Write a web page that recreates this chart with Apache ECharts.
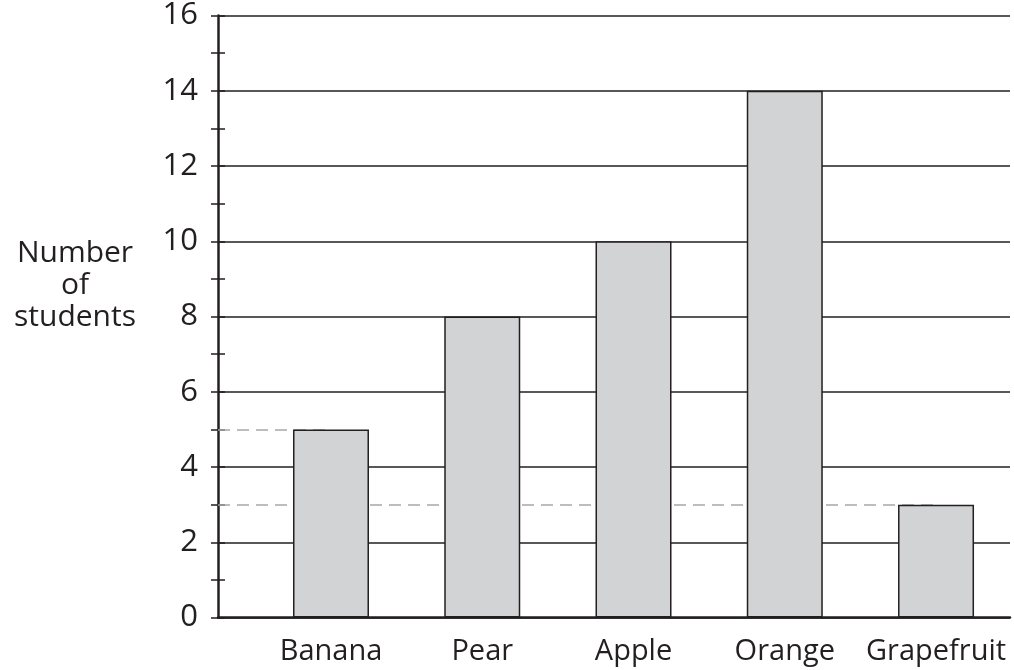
<!DOCTYPE html>
<html>
<head>
<meta charset="utf-8">
<script src="https://cdn.jsdelivr.net/npm/echarts@6/dist/echarts.min.js"></script>
<style>
html,body{margin:0;padding:0;background:#fff;}
#chart{width:1014px;height:670px;}
</style>
</head>
<body>
<div id="chart"></div>
<script>
// ---- data ----
var categories = ['Banana', 'Pear', 'Apple', 'Orange', 'Grapefruit'];
var students = [5, 8, 10, 14, 3];
var yTicks = [0, 2, 4, 6, 8, 10, 12, 14, 16];
var guideFruits = ['Banana', 'Grapefruit'];   // dashed reading guides
var yTitle = ['Number', 'of', 'students'];

// ---- layout ----
var INK = '#231f20';
var FONT = '"Open Sans"';
var xMin = -0.747, xMax = 4.489;
var gridLeft = 218, gridRight = 4, gridTop = 15, gridBottom = 52.5;
var gridWidth = 1014 - gridLeft - gridRight;

var barData = categories.map(function (c, i) { return [i, students[i]]; });
var guideLines = guideFruits.map(function (f) {
  var i = categories.indexOf(f);
  return [{ coord: [xMin, students[i]] }, { coord: [i, students[i]] }];
});

var chart = echarts.init(document.getElementById('chart'));
var yMin = yTicks[0], yMax = yTicks[yTicks.length - 1], yInt = yTicks[1] - yTicks[0];

chart.setOption({
  animation: false,
  backgroundColor: '#ffffff',
  grid: { left: gridLeft, right: gridRight, top: gridTop, bottom: gridBottom, containLabel: false },
  xAxis: {
    type: 'value', min: xMin, max: xMax,
    axisLine: { show: true, onZero: false, lineStyle: { color: INK, width: 2.5 } },
    axisTick: { show: false },
    splitLine: { show: false },
    axisLabel: {
      customValues: categories.map(function (c, i) { return i; }),
      formatter: function (v) { return categories[Math.round(v)] || ''; },
      color: INK, fontFamily: FONT, fontSize: 29, margin: 20
    }
  },
  yAxis: [
    {
      type: 'value', position: 'left', min: yMin, max: yMax, interval: yInt,
      axisLine: { show: true, onZero: false, lineStyle: { color: INK, width: 2.5 } },
      axisTick: { show: true, inside: false, length: 7, lineStyle: { color: INK, width: 1.5 } },
      minorTick: { show: true, splitNumber: 2, length: 7, lineStyle: { color: INK, width: 1.5 } },
      splitLine: { show: true, lineStyle: { color: INK, width: 1.5 } },
      axisLabel: { color: INK, fontFamily: FONT, fontSize: 31, margin: 20 }
    },
    {
      type: 'value', position: 'right', offset: -gridWidth, min: yMin, max: yMax, interval: yInt,
      axisLine: { show: false, onZero: false },
      axisTick: { show: true, inside: false, length: 7, lineStyle: { color: INK, width: 1.5 } },
      minorTick: { show: true, splitNumber: 2, length: 7, lineStyle: { color: INK, width: 1.5 } },
      splitLine: { show: false },
      axisLabel: { show: false }
    }
  ],
  series: [{
    type: 'bar',
    data: barData,
    barWidth: 76,
    z: 3,
    itemStyle: { color: '#d1d3d4', borderColor: INK, borderWidth: 1.5 },
    markLine: {
      silent: true, z: 1,
      symbol: ['none', 'none'],
      label: { show: false },
      lineStyle: { color: '#a8a8a8', width: 1.5, type: [12, 7] },
      data: guideLines
    }
  }],
  graphic: [{
    type: 'text', x: 75, y: 285, z: 10,
    style: {
      text: yTitle.join('\n'), fill: INK, font: '30px ' + FONT,
      align: 'center', verticalAlign: 'middle', lineHeight: 32
    }
  }]
});
</script>
</body>
</html>
